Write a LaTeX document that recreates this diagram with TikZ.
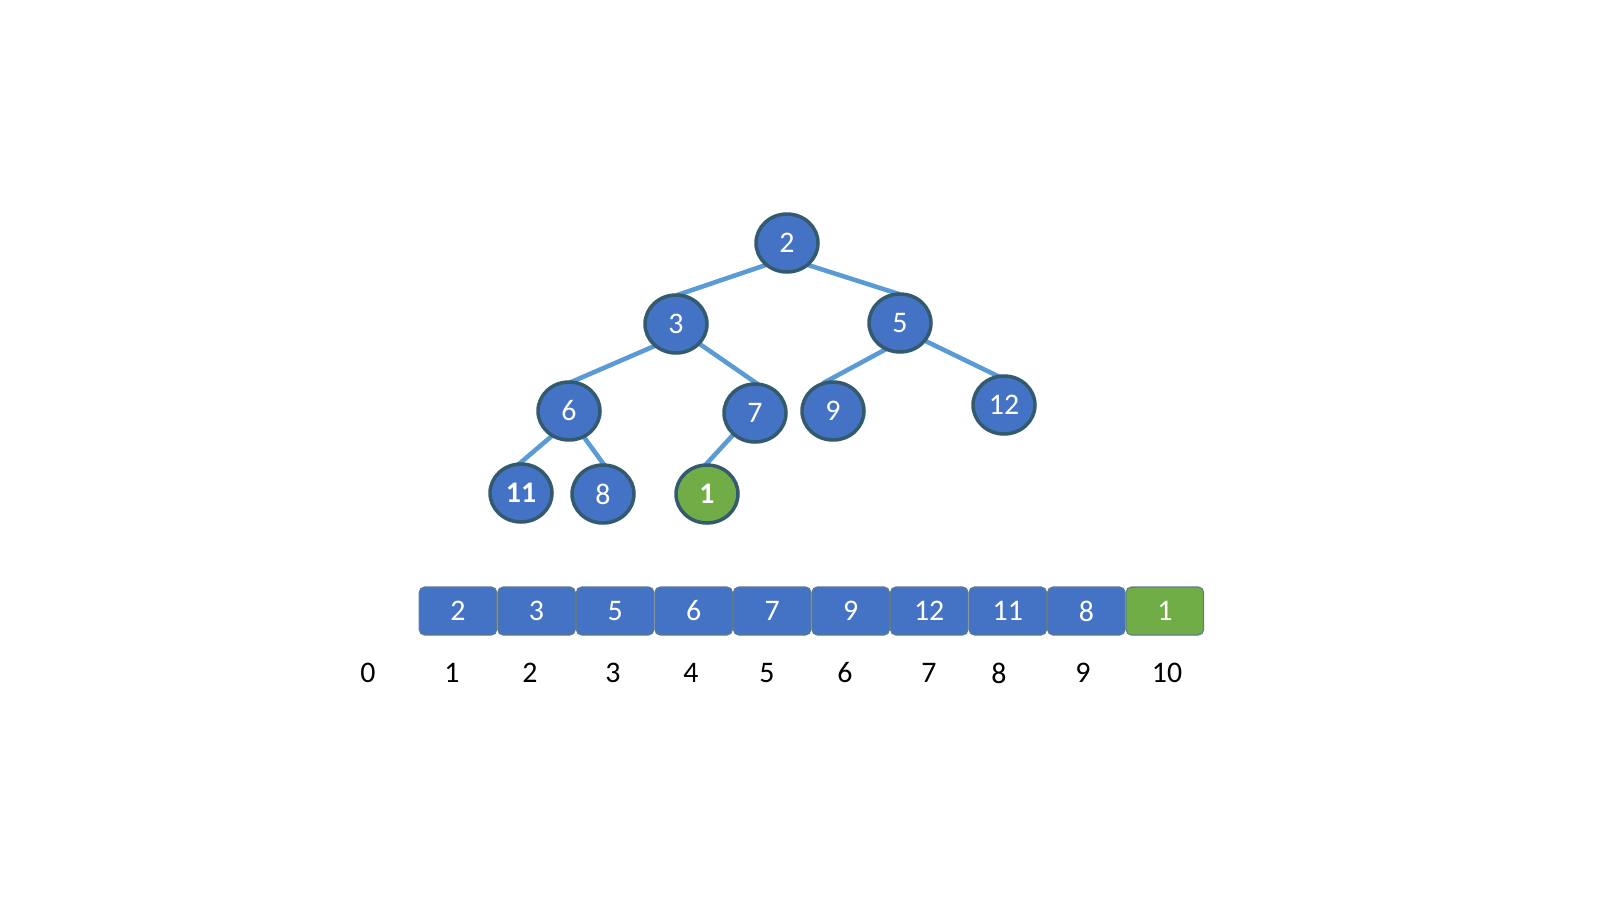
\documentclass[tikz,border=0pt]{standalone}
\usepackage{fontspec}
\setmainfont{Carlito}
\usetikzlibrary{shapes.geometric,positioning,backgrounds}
\definecolor{heapblue}{HTML}{4472C4}
\definecolor{heapline}{HTML}{345A6E}
\definecolor{edgeblue}{HTML}{5B9BD5}
\definecolor{newgreen}{HTML}{70AD47}

\begin{document}
\begin{tikzpicture}[
  x=0.02cm, y=-0.02cm,
  heapnode/.style={ellipse, draw=heapline, fill=heapblue, line width=2pt,
                   minimum width=12.4mm, minimum height=11.6mm, inner sep=0pt,
                   text=white, font=\fontsize{17}{20}\selectfont},
  cell/.style={draw=heapline!80, fill=heapblue, rounded corners=3pt, line width=0.6pt,
               minimum width=15.5mm, minimum height=9.6mm, inner sep=0pt,
               text=white, font=\fontsize{17}{20}\selectfont},
  link/.style={draw=edgeblue, line width=2.6pt, shorten >=-3pt, shorten <=-3pt},
  idx/.style={font=\fontsize{17}{20}\selectfont}
]
\useasboundingbox (0,0) rectangle (1600,900);
% heap as a tree
\node[heapnode] (n2) at (787,243) {2};
\node[heapnode] (n3) at (676,324) {3};
\node[heapnode] (n5) at (900,323) {5};
\node[heapnode] (n6) at (569,411) {6};
\node[heapnode] (n7) at (755,413) {7};
\node[heapnode] (n9) at (833,411) {9};
\node[heapnode] (n12) at (1004,405) {12};
\node[heapnode, font=\fontsize{17}{20}\selectfont\bfseries] (n11) at (521,493) {11};
\node[heapnode] (n8) at (603,494) {8};
\node[heapnode, fill=newgreen, font=\fontsize{17}{20}\selectfont\bfseries] (n1) at (707,494) {1};
\begin{scope}[on background layer]
\draw[link] (n2.225) -- (n3.80);
\draw[link] (n2.315) -- (n5.100);
\draw[link] (n3.225) -- (n6.80);
\draw[link] (n3.320) -- (n7.north);
\draw[link] (n5.240) -- (n9.100);
\draw[link] (n5.325) -- (n12.105);
\draw[link] (n6.235) -- (n11.north);
\draw[link] (n6.300) -- (n8.north);
\draw[link] (n7.225) -- (n1.north);
\end{scope}
% heap as an array
\node[cell] (a1) at (458,611) {2};
\node[cell, right=0pt of a1] (a2) {3};
\node[cell, right=0pt of a2] (a3) {5};
\node[cell, right=0pt of a3] (a4) {6};
\node[cell, right=0pt of a4] (a5) {7};
\node[cell, right=0pt of a5] (a6) {9};
\node[cell, right=0pt of a6] (a7) {12};
\node[cell, right=0pt of a7] (a8) {11};
\node[cell, right=0pt of a8] (a9) {8};
\node[cell, right=0pt of a9, fill=newgreen] (a10) {1};
\foreach \x/\i in {368/0, 452/1, 530/2, 613/3, 691/4, 767/5, 845/6, 929/7, 999/8, 1083/9, 1167/10}
  \node[idx] (i\i) at (\x,673) {\i};
\end{tikzpicture}
\end{document}
